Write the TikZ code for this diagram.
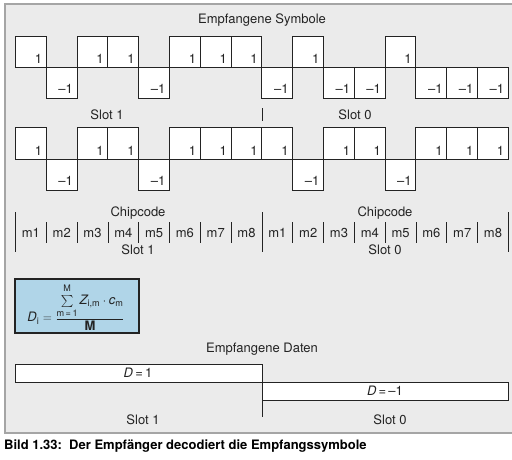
\documentclass[tikz,border=0pt]{standalone}
\usepackage{amsmath}
\usepackage{fontspec}
\setmainfont{TeX Gyre Heros}
\usetikzlibrary{positioning}
\definecolor{panelgrau}{RGB}{235,235,235}
\definecolor{rahmengrau}{RGB}{165,165,165}
\definecolor{formelblau}{RGB}{176,213,232}
\definecolor{tinte}{RGB}{35,35,35}

\begin{document}
\begin{tikzpicture}[
  x=1pt, y=-1pt,
  font=\fontsize{13}{15}\selectfont,
  every node/.style={inner sep=1pt, text=tinte},
  chip/.style={draw=tinte, fill=white, line width=0.9pt},
  wert/.style={anchor=south east, inner sep=0pt},
  strich/.style={draw=tinte, line width=0.8pt}
]
  \useasboundingbox (0,0) rectangle (512,459);
  \fill[white] (0,0) rectangle (512,459);
  \filldraw[fill=panelgrau, draw=rahmengrau, line width=1.5pt] (5,4) rectangle (515,433);

  \node (titel) at (262,20) {Empfangene Symbole};
  % empfangene Symbole, Slot 1 und Slot 0
  \foreach \v [count=\i from 0] in {1,-1,1,1,-1,1,1,1,-1,1,-1,-1,1,-1,-1,-1} {
    \pgfmathsetmacro{\xa}{15.5+30.8*\i}
    \pgfmathsetmacro{\xb}{\xa+30.8}
    \ifnum\v>0
      \draw[chip] (\xa,67) rectangle (\xb,36);
      \node[wert] (sym\i) at (\xb-4,63.5) {1};
    \else
      \draw[chip] (\xa,67) rectangle (\xb,98);
      \node[wert] (sym\i) at (\xb-4,94) {–1};
    \fi
  }
  \draw[strich] (262,108) -- (262,121);
  \node (slotA1) at (107,115) {Slot 1};
  \node (slotA0) at (355,115) {Slot 0};

  % Chipcode
  \foreach \v [count=\i from 0] in {1,-1,1,1,-1,1,1,1,1,-1,1,1,-1,1,1,1} {
    \pgfmathsetmacro{\xa}{15.5+30.8*\i}
    \pgfmathsetmacro{\xb}{\xa+30.8}
    \ifnum\v>0
      \draw[chip] (\xa,159) rectangle (\xb,127);
      \node[wert] (code\i) at (\xb-4,155.5) {1};
    \else
      \draw[chip] (\xa,159) rectangle (\xb,190);
      \node[wert] (code\i) at (\xb-4,186) {–1};
    \fi
  }

  \node (cc1) at (138,213) {Chipcode};
  \node (cc0) at (385,213) {Chipcode};
  \foreach \k in {0,8,16}
    \draw[strich] (15.5+30.8*\k,212) -- ++(0,40);
  \foreach \k in {1,...,7,9,10,...,15}
    \draw[strich] (15.5+30.8*\k,222) -- ++(0,21);
  \foreach \k in {1,...,8} {
    \node (mA\k) at (15.5+30.8*\k-15.4,233) {m\k};
    \node (mB\k) at (262+30.8*\k-15.4,233) {m\k};
  }
  \node (slotB1) at (138,250) {Slot 1};
  \node (slotB0) at (385,250) {Slot 0};

  % Entscheidungsformel
  \filldraw[fill=formelblau, draw=tinte, line width=1.1pt] (15,279) rectangle (139,333);
  \node (formel) at (76,307)
    {\textit{D}$_{\text{i}}$ $=\dfrac{\sum\limits_{\text{m\,=\,1}}^{\raisebox{1.5pt}{\fontsize{9}{9}\selectfont M}} \textit{Z}_{\text{i,m}}\cdot\textit{c}_{\text{m}}}{\textbf{M}}$};

  % empfangene Daten
  \node (daten) at (262,349) {Empfangene Daten};
  \draw[chip] (15.5,364) rectangle (262,382);
  \draw[chip] (262,382) rectangle (508.3,400);
  \node (d1) at (138,373) {\textit{D}\,=\,1};
  \node (d0) at (385,391) {\textit{D}\,=\,–1};
  \draw[strich] (262,400) -- (262,417);
  \node (slotC1) at (143,420) {Slot 1};
  \node (slotC0) at (390,420) {Slot 0};

  \node[anchor=west, text=black, font=\bfseries\fontsize{13}{15}\selectfont] (bild) at (3,446)
    {Bild 1.33:\ \ Der Empfänger decodiert die Empfangssymbole};
\end{tikzpicture}
\end{document}
